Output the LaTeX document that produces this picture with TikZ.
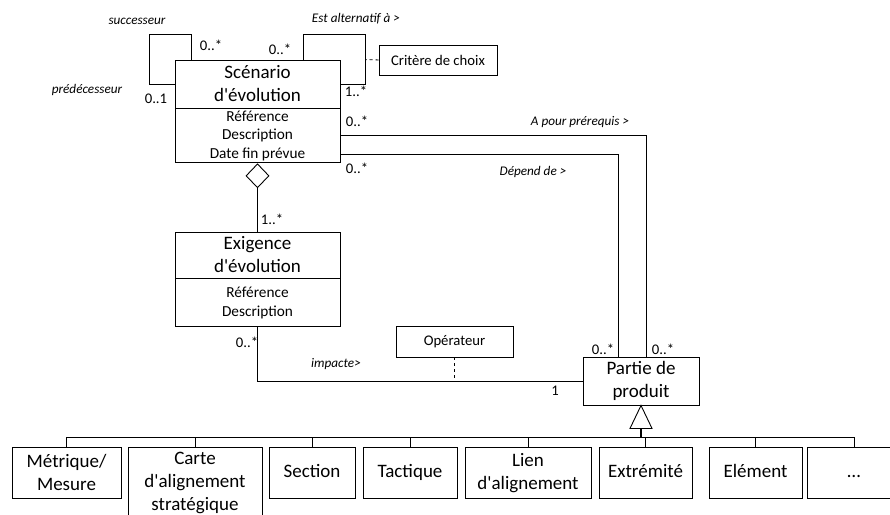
\documentclass[tikz,border=0pt]{standalone}
\usepackage{fontspec}
\setmainfont{Carlito}
\usetikzlibrary{positioning, shapes.geometric, calc}
\newcommand{\titlefont}{\fontsize{19}{23}\selectfont}
\newcommand{\attrfont}{\fontsize{15.3}{18.3}\selectfont}
\newcommand{\notefont}{\fontsize{14.7}{17}\selectfont}
\newcommand{\multfont}{\fontsize{14.7}{17}\selectfont}
\newcommand{\rolefont}{\fontsize{13.2}{15}\selectfont\itshape}
\newcommand{\ap}{\textquotesingle}
\newcommand{\lowstrut}{\rule[-4pt]{0pt}{17pt}}

\begin{document}
\begin{tikzpicture}[
  x=1pt, y=-1pt,
  line width=0.9pt,
  cls/.style={draw, fill=white, align=center, inner sep=0pt, font=\titlefont},
  attrs/.style={cls, font=\attrfont},
  note/.style={draw, fill=white, align=center, inner sep=0pt, font=\notefont},
  sub/.style={cls, anchor=north, minimum height=51pt},
  mult/.style={font=\multfont, inner sep=0pt},
  role/.style={font=\rolefont, inner sep=0pt},
  agg/.style={diamond, draw, fill=white, inner sep=0pt, minimum width=23pt, minimum height=24pt, anchor=north}
]
\useasboundingbox (0,0) rectangle (890,514);

% classes
\node[cls, minimum width=165pt, minimum height=48pt] (scenT) at (257.5,84) {Scénario\\d\ap évolution};
\node[attrs, minimum width=165pt, minimum height=54pt, below=0pt of scenT] (scenA) {Référence\\Description\\Date fin prévue};
\node[agg] (agg) at (scenA.south) {};
\node[cls, minimum width=165pt, minimum height=46pt] (exigT) at (257.5,255) {Exigence\\d\ap évolution};
\node[attrs, minimum width=165pt, minimum height=48pt, below=0pt of exigT] (exigA) {Référence\\Description};
\node[cls, minimum width=116pt, minimum height=48pt] (partie) at (641,381) {Partie de\\produit};
\node[note, minimum width=118pt, minimum height=30pt] (crit) at (438,60) {Critère de choix};
\node[note, minimum width=117pt, minimum height=31pt] (op) at (454.5,341.5) {Opérateur};

% sub-classes
\node[sub, minimum width=109pt] (metr) at (66.5,447) {Métrique/\\Mesure};
\node[sub, minimum width=134pt, minimum height=72pt] (carte) at (195,447) {Carte\\d\ap alignement\\stratégique};
\node[sub, minimum width=86pt] (sect) at (312,447) {Section\lowstrut};
\node[sub, minimum width=94pt] (tact) at (410,447) {Tactique\lowstrut};
\node[sub, minimum width=126pt] (lien) at (528,447) {Lien\\d\ap alignement};
\node[sub, minimum width=93pt] (extr) at (645.5,447) {Extrémité\lowstrut};
\node[sub, minimum width=93pt] (elem) at (755.5,447) {Elément\lowstrut};
\node[sub, minimum width=94pt] (etc) at (854,447) {…\lowstrut};

% self associations
\draw ([xshift=17pt]scenT.north west) -- ++(0,-25) -- ++(-42,0) |- (scenT.west);
\draw ([xshift=-37pt]scenT.north east) -- ++(0,-25) -- ++(62,0) |- (scenT.east);
\coordinate (alt) at ($(scenT.north east)+(25,0)$);
\draw[dashed] (crit.west) -- (alt);

% associations
\draw (scenA.east) -| ([xshift=5pt]partie.north);
\draw ([yshift=-19pt]scenA.east) -| ([xshift=-23pt]partie.north);
\draw (agg.south) -- (exigT.north);
\draw (exigA.south) |- (partie.west);
\draw[dashed] (op.south) -- (op.south |- partie.west);

% generalisation
\coordinate (gen) at ($(partie.south)+(0,23)$);
\coordinate (bus) at ($(gen)+(0,9)$);
\draw (metr.north) |- (bus) -| (etc.north);
\foreach \s in {carte, sect, tact, lien, extr, elem}
  \draw (\s.north) -- (\s.north |- bus);
\draw[line width=1.8pt] (gen) -- (bus);
\draw[fill=white] (partie.south) -- ($(gen)+(-11,0)$) -- ($(gen)+(11,0)$) -- cycle;

% roles and labels
\node[role] (succ) at (137,21) {successeur};
\node[role] (pred) at (87,90) {prédécesseur};
\node[role] (altLbl) at (356,19) {Est alternatif à >};
\node[role] (preLbl) at (580,122) {A pour prérequis >};
\node[role] (depLbl) at (533,172) {Dépend de >};
\node[role] (impLbl) at (336,364) {impacte>};

% multiplicities
\node[mult] (mSucc) at (211,45) {0..*};
\node[mult] (mPred) at (156,99) {0..1};
\node[mult] (mAltA) at (280,49) {0..*};
\node[mult] (mAltB) at (356,91) {1..*};
\node[mult] (mPre) at (357,121) {0..*};
\node[mult] (mDep) at (357,168) {0..*};
\node[mult] (mAgg) at (272,219) {1..*};
\node[mult] (mExig) at (247,342) {0..*};
\node[mult] (mImp) at (555,391) {1};
\node[mult] (mPartDep) at (603,349) {0..*};
\node[mult] (mPartPre) at (663,349) {0..*};
\end{tikzpicture}
\end{document}
